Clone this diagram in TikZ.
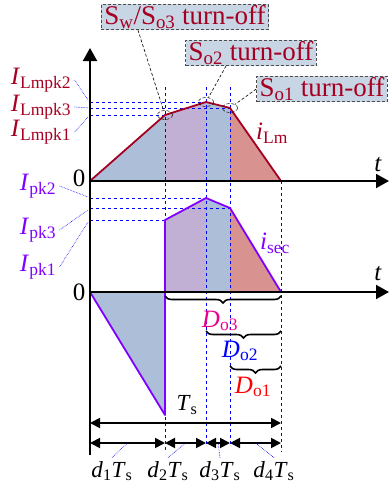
\documentclass[tikz,border=0pt]{standalone}
\usepackage{fontspec}
\setmainfont{Liberation Serif}
\usetikzlibrary{shapes.geometric, arrows.meta, positioning, calc, decorations.pathreplacing, backgrounds}

\definecolor{lmred}{HTML}{A50021}
\definecolor{secviolet}{HTML}{7F00FF}
\definecolor{fillblue}{HTML}{ADBFD8}
\definecolor{fillpurple}{HTML}{C1B0D3}
\definecolor{fillred}{HTML}{D8928F}
\definecolor{boxblue}{HTML}{C8D5E5}

\newcommand{\lblsize}{\fontsize{25}{27}\selectfont}
\newcommand{\boxsize}{\fontsize{27}{29}\selectfont}
\newcommand{\dursize}{\fontsize{23}{25}\selectfont}

\begin{document}
\begin{tikzpicture}[
    x=1pt, y=-1pt,
    font=\lblsize,
    axis/.style={-{Triangle[length=13pt, width=14pt]}, line width=2pt},
    guide/.style={dashed, blue, line width=0.7pt},
    leader/.style={densely dotted, blue, line width=0.6pt},
    offlead/.style={densely dashed, black, line width=0.6pt},
    wave/.style={line width=1.8pt, line join=round},
    offbox/.style={rectangle, draw=black!70, densely dashed, fill=boxblue, line width=0.8pt, text=lmred, font=\boxsize, inner xsep=3pt, inner ysep=1pt},
    ringmark/.style={ellipse, draw, densely dashed, line width=0.5pt, minimum width=15pt, minimum height=9pt, inner sep=0pt},
    span/.style={{Triangle[length=10pt, width=10pt]}-{Triangle[length=10pt, width=10pt]}, line width=1.8pt},
    brc/.style={decorate, decoration={brace, amplitude=7pt, mirror}, line width=1.6pt}
]
\useasboundingbox (0,0) rectangle (390,488);

% Key points
\coordinate (O1) at (90,181);
\coordinate (O2) at (90,292);
\coordinate (A1) at (165,115);
\coordinate (A2) at (206,102);
\coordinate (A3) at (230,108);
\coordinate (A4) at (281,181);
\coordinate (B0) at (165,220);
\coordinate (B1) at (206,198);
\coordinate (B2) at (230,208);
\coordinate (B3) at (281,292);
\coordinate (B4) at (165,415);

% Fills
\fill[fillblue] (O1) -- (A1) -- (165,181) -- cycle;
\fill[fillpurple] (165,181) -- (A1) -- (A2) -- (206,181) -- cycle;
\fill[fillblue] (206,181) -- (A2) -- (A3) -- (230,181) -- cycle;
\fill[fillred] (230,181) -- (A3) -- (A4) -- cycle;
\fill[fillblue] (O2) -- (B4) -- (165,292) -- cycle;
\fill[fillpurple] (165,292) -- (B0) -- (B1) -- (206,292) -- cycle;
\fill[fillblue] (206,292) -- (B1) -- (B2) -- (230,292) -- cycle;
\fill[fillred] (230,292) -- (B2) -- (B3) -- cycle;

% Guide lines
\draw[guide] (165,87) -- (165,452);
\draw[guide] (206,87) -- (206,445);
\draw[guide] (230,87) -- (230,445);
\draw[guide] (A4) -- (281,452);
\draw[guide] (90,102) -- (A2);
\draw[guide] (90,108) -- (A3);
\draw[guide] (90,115) -- (A1);
\draw[guide] (90,198) -- (B1);
\draw[guide] (90,208) -- (B2);
\draw[guide] (90,220) -- (B0);

% Waveforms
\draw[wave, lmred] (O1) -- (A1) -- (A2) -- (A3) -- (A4);
\draw[wave, secviolet] (O2) -- (B4) -- (B0) -- (B1) -- (B2) -- (B3);

% Axes
\draw[axis] (90,455) -- (90,48);
\draw[axis] (O1) -- (389,181);
\draw[axis] (O2) -- (389,292);
\node (z1) at (79,178) {0};
\node (z2) at (79,292) {0};
\node (t1) at (378,165) {\textit{t}};
\node (t2) at (378,274) {\textit{t}};

% Peak labels
\node[text=lmred] (lpk2) at (41,80) {\textit{I}\textsubscript{Lmpk2}};
\node[text=lmred] (lpk3) at (41,107) {\textit{I}\textsubscript{Lmpk3}};
\node[text=lmred] (lpk1) at (41,132) {\textit{I}\textsubscript{Lmpk1}};
\coordinate (q2) at (88,100);
\coordinate (q3) at (90,108);
\coordinate (q1) at (88,117);
\draw[leader] (lpk2.east) -- (q2);
\draw[leader] (lpk3.east) -- (q3);
\draw[leader] (lpk1.east) -- (q1);
\node[text=secviolet] (spk2) at (38,186) {\textit{I}\textsubscript{pk2}};
\node[text=secviolet] (spk3) at (38,230) {\textit{I}\textsubscript{pk3}};
\node[text=secviolet] (spk1) at (38,267) {\textit{I}\textsubscript{pk1}};
\coordinate (r2) at (88,197);
\coordinate (r3) at (88,210);
\coordinate (r1) at (88,222);
\draw[leader] (spk2.east) -- (r2);
\draw[leader] (spk3.east) -- (r3);
\draw[leader] (spk1.east) -- (r1);
\node[text=lmred] (ilm) at (272,133) {\textit{i}\textsubscript{Lm}};
\node[text=secviolet] (isec) at (275,243) {\textit{i}\textsubscript{sec}};

% Turn-off marks
\node[ringmark] (e1) at (A1) {};
\node[ringmark] (e2) at (A2) {};
\node[ringmark] (e3) at (A3) {};
\node[offbox] (off3) at (185,17) {S\textsubscript{w}/S\textsubscript{o3} turn-off};
\node[offbox] (off2) at (251,53) {S\textsubscript{o2} turn-off};
\node[offbox] (off1) at (322,89) {S\textsubscript{o1} turn-off};
\draw[offlead] ($(off3.south west)!0.22!(off3.south east)$) -- (e1);
\draw[offlead] ($(off2.south west)!0.31!(off2.south east)$) -- (e2);
\draw[offlead] (off1.west) -- (e3);

% Duty braces
\draw[brc] (165,296) -- (281,296);
\draw[brc] (206,331) -- (281,331);
\draw[brc] (230,366) -- (281,366);
\node[text=magenta] (do3) at (220,321) {\textit{D}\textsubscript{o3}};
\node[text=blue] (do2) at (240,351) {\textit{D}\textsubscript{o2}};
\node[text=red] (do1) at (253,387) {\textit{D}\textsubscript{o1}};

% Period
\draw[span] (90,423) -- (281,423);
\node[font=\dursize] (ts) at (187,405) {\textit{T}\textsubscript{s}};
\coordinate (s0) at (90,443);
\coordinate (s1) at (165,443);
\coordinate (s2) at (206,443);
\coordinate (s3) at (230,443);
\coordinate (s4) at (281,443);
\draw[span] (s0) -- (s1);
\draw[span] (s1) -- (s2);
\draw[span] (s2) -- (s3);
\draw[span] (s3) -- (s4);
\node[font=\dursize] (d1) at (112,471) {\textit{d}\textsubscript{1}\textit{T}\textsubscript{s}};
\node[font=\dursize] (d2) at (168,471) {\textit{d}\textsubscript{2}\textit{T}\textsubscript{s}};
\node[font=\dursize] (d3) at (220,471) {\textit{d}\textsubscript{3}\textit{T}\textsubscript{s}};
\node[font=\dursize] (d4) at (274,471) {\textit{d}\textsubscript{4}\textit{T}\textsubscript{s}};
\draw[leader] (d1.north) -- ($(s0)!0.5!(s1)$);
\draw[leader] (d2.north) -- ($(s1)!0.5!(s2)$);
\draw[leader] (d3.north) -- ($(s2)!0.5!(s3)$);
\draw[leader] (d4.north) -- ($(s3)!0.5!(s4)$);

\end{tikzpicture}
\end{document}
